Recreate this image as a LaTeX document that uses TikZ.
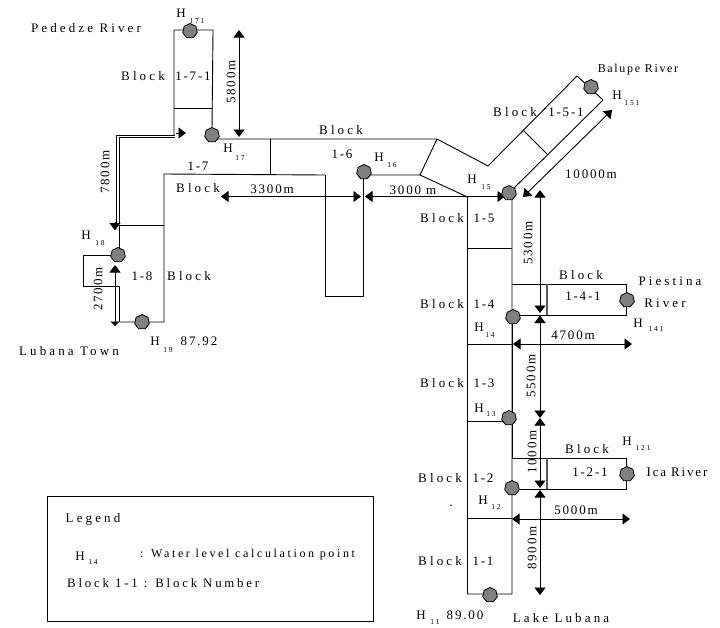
\documentclass[tikz,border=0pt]{standalone}
\usepackage{fontspec}
\setmainfont[LetterSpace=24]{Liberation Serif}
\newfontfamily\numfont[LetterSpace=14]{Liberation Serif}
\newfontfamily\legfont[LetterSpace=22]{Liberation Serif}
\usetikzlibrary{arrows.meta,shapes.geometric}
\pgfdeclarelayer{lines}
\pgfsetlayers{lines,main}
\tikzset{
 ln/.style={draw=black,line width=0.9pt,line join=miter},
 thk/.style={draw=black!65,line width=1.2pt},
 dim/.style={draw=black,line width=0.9pt,{Triangle[length=7.5pt,width=11pt]}-{Triangle[length=7.5pt,width=11pt]}},
 dimb/.style={draw=black,line width=0.9pt,-{Triangle[length=7.5pt,width=11pt]}},
 pt/.style={regular polygon,regular polygon sides=7,draw=black,line width=0.8pt,fill=black!50,minimum size=15pt,inner sep=0pt},
 tx/.style={inner sep=0pt,font=\fontsize{13}{15}\selectfont},
 nm/.style={inner sep=0pt,font=\numfont\fontsize{13}{15}\selectfont},
 sb/.style={inner sep=0pt,font=\fontsize{7.5}{8}\selectfont},
 rt/.style={nm,rotate=90},
}
\begin{document}
\begin{tikzpicture}[x=1pt,y=-1pt]
\useasboundingbox (0,0) rectangle (720,627);
% water level points
\node[pt] (h171) at (190,31) {};
\node[pt] (h17) at (212,135) {};
\node[pt] (h18) at (118,255) {};
\node[pt] (h19) at (142,322) {};
\node[pt] (h16) at (364,172) {};
\node[pt] (h15) at (509,193) {};
\node[pt] (h151) at (591,87) {};
\node[pt] (h141) at (627,300) {};
\node[pt] (h14) at (513,317) {};
\node[pt] (h13) at (509,418) {};
\node[pt] (h121) at (627,474) {};
\node[pt] (h12) at (512,488) {};
\node[pt] (h11) at (490,595) {};
% corner coordinates
\coordinate (a1) at (174,108); \coordinate (a2) at (213,108);
\coordinate (a3) at (174,30); \coordinate (a4) at (213,30);
\coordinate (a5) at (174,135); \coordinate (a6) at (213,130);
\coordinate (b0) at (214,139);
\coordinate (b1) at (270,139); \coordinate (b2) at (270,174);
\coordinate (b3) at (164,174); \coordinate (b4) at (164,322);
\coordinate (b5) at (119.5,225); \coordinate (b6) at (164,225);
\coordinate (c1) at (83,255); \coordinate (c2) at (83,286);
\coordinate (c3) at (119.5,286); \coordinate (c4) at (119.5,322);
\coordinate (d1) at (437,139); \coordinate (d2) at (488,166);
\coordinate (d3) at (577,76); \coordinate (d4) at (603,100);
\coordinate (d5) at (523,130); \coordinate (d6) at (548,155);
\coordinate (d7) at (420,175); \coordinate (d8) at (467.5,197);
\coordinate (e1) at (325,175); \coordinate (e2) at (325,296);
\coordinate (e3) at (363.5,296);
\coordinate (f1) at (467.5,594); \coordinate (f2) at (512,594);
\coordinate (f3) at (467.5,248); \coordinate (f4) at (512,248);
\coordinate (f5) at (512,284); \coordinate (f6) at (626,284);
\coordinate (f7) at (626,315); \coordinate (f8) at (512,315);
\coordinate (f9) at (547,284); \coordinate (f10) at (547,315);
\coordinate (g1) at (467.5,344); \coordinate (g2) at (512,344);
\coordinate (g3) at (467.5,421); \coordinate (g4) at (512,458);
\coordinate (g5) at (626,458); \coordinate (g6) at (626,489);
\coordinate (g7) at (512,489); \coordinate (g8) at (547,458);
\coordinate (g9) at (547,489); \coordinate (g10) at (467.5,518);
\coordinate (g11) at (512,518);
\begin{pgfonlayer}{lines}
% block outlines
\draw[ln] (a5) -- (a3) -- (a4) -- (a6 -| h17);
\draw[ln] (a1) -- (a2);
\draw[ln] (h17 |- b0) -- (d1) -- (d2) -- (d3) -- (d4) -- (h15);
\draw[ln] (d5) -- (d6);
\draw[ln] (b1) -- (b2);
\draw[ln] (e1) -- (b3) -- (b4) -- (c4);
\draw[ln] (b5) -- (b6);
\draw[ln] (b5) -- (b5 |- h18);
\draw[ln] (h18) -- (c1) -- (c2) -- (c3) -- (c4);
\draw[ln] (d1) -- (d7) -- (h16 |- d7);
\draw[ln] (d7) -- (d8) -- (f1) -- (f2) -- (f2 |- h15);
\draw[ln] (e1) -- (e2) -- (e3) -- (e3 |- h16);
\draw[ln] (f3) -- (f4);
\draw[ln] (f5) -- (f6) -- (f7) -- (f8);
\draw[thk] (f9) -- (f10);
\draw[ln] (g1) -- (g2);
\draw[ln] (g3) -- (g3 -| h13);
\draw[ln] (f8) -- (g4) -- (g5) -- (g6) -- (g7);
\draw[thk] (g8) -- (g9);
\draw[ln] (g10) -- (g11);
% double line with arrows
\coordinate (p1) at (175,135); \coordinate (p2) at (116,135);
\coordinate (p3) at (116,228);
\coordinate (q1) at (175,137.5); \coordinate (q2) at (119.5,137.5);
\coordinate (q3) at (119.5,224);
\coordinate (r2) at (186,133);
\draw[ln] (p1) -- (p2) -- (p3);
\draw[ln] (q1) -- (q2) -- (q3);
\coordinate (p4) at (115,222); \coordinate (p5) at (115,230.5);
\draw[dimb] (p4) -- (p5);
\coordinate (r3) at (176,133); \draw[dimb] (r3) -- (r2);
% dimension arrows
\coordinate (k1) at (239,30); \coordinate (k2) at (239,137);
\draw[dim] (k1) -- (k2);
\coordinate (k3) at (115,265); \coordinate (k4) at (115,326);
\draw[dim,{Triangle[length=7.5pt,width=11pt]}-{Triangle[length=4.5pt,width=9pt]}] (k3) -- (k4);
\coordinate (m1) at (221,196.5); \coordinate (m2) at (361,196.5);
\draw[dim] (m1) -- (m2);
\coordinate (m3) at (365,196.5); \coordinate (m4) at (505,196.5);
\draw[dim] (m3) -- (m4);
\coordinate (n1) at (523,197); \coordinate (n2) at (612,110);
\draw[dim] (n1) -- (n2);
\coordinate (o1) at (540,190); \coordinate (o2) at (540,313);
\coordinate (o3) at (540,315.5); \coordinate (o4) at (540,418);
\coordinate (o5) at (540,418); \coordinate (o6) at (540,488);
\coordinate (o7) at (540,490); \coordinate (o8) at (540,595);
\draw[dim] (o1) -- (o2);
\draw[dim] (o3) -- (o4);
\draw[dim] (o5) -- (o6);
\draw[dim] (o7) -- (o8);
\coordinate (s1) at (513,344); \coordinate (s2) at (632,344);
\draw[dim] (s1) -- (s2);
\coordinate (s3) at (512,519); \coordinate (s4) at (630,519);
\draw[dim] (s3) -- (s4);
\end{pgfonlayer}
% labels
\node[tx] (t1) at (86,28) {Pededze River};
\node[tx] (t2) at (181,13) {H}; \node[sb] (t3) at (197,21) {171};
\node[tx] (t4a) at (143,76) {Block}; \node[nm] (t4) at (193,76) {1-7-1};
\node[rt] (t5) at (231,82) {5800m};
\node[tx] (t6) at (228,148) {H}; \node[sb] (t7) at (240,158) {17};
\node[nm] (t8) at (198,166) {1-7};
\node[tx] (t9) at (198,188) {Block};
\node[nm] (t10) at (272,189) {3300m};
\node[rt] (t11) at (105,172) {7800m};
\node[tx] (t12) at (86,235) {H}; \node[sb] (t13) at (100,243) {18};
\node[nm] (t14) at (142,276) {1-8};
\node[tx] (t15) at (189,276) {Block};
\node[rt] (t16) at (98,289) {2700m};
\node[tx] (t17) at (155,341) {H}; \node[sb] (t18) at (168,350) {19};
\node[nm] (t19) at (199,341) {87.92};
\node[tx] (t20) at (69,351) {Lubana Town};
\node[tx] (t21) at (341,130) {Block};
\node[nm] (t22) at (342,154) {1-6};
\node[tx] (t23) at (379,157) {H}; \node[sb] (t24) at (392,165) {16};
\node[nm] (t25) at (413,190) {3000 m};
\node[tx] (t26) at (472,179) {H}; \node[sb] (t27) at (486,187) {15};
\node[tx] (t28) at (442,218) {Block}; \node[nm] (t29) at (484,218) {1-5};
\node[rt] (t30) at (528,243) {5300m};
\node[nm] (t31) at (638,70) {\fontsize{12}{14}\selectfont Balupe River};
\node[tx] (t32) at (617,95) {H}; \node[sb] (t33) at (632,103) {151};
\node[tx] (t34) at (515,112) {Block}; \node[nm] (t35) at (566,112) {1-5-1};
\node[nm] (t36) at (591,174) {10000m};
\node[tx] (t37) at (581,275) {Block};
\node[nm] (t38) at (583,296) {1-4-1};
\node[tx] (t39) at (670,281) {Piestina};
\node[tx] (t40) at (665,303) {River};
\node[tx] (t41) at (638,323) {H}; \node[sb] (t42) at (656,329) {141};
\node[tx] (t43) at (442,304) {Block}; \node[nm] (t44) at (484,304) {1-4};
\node[tx] (t45) at (479,327) {H}; \node[sb] (t46) at (490,335) {14};
\node[nm] (t47) at (573,335) {4700m};
\node[rt] (t48) at (531,376) {5500m};
\node[tx] (t49) at (442,383) {Block}; \node[nm] (t50) at (484,383) {1-3};
\node[tx] (t51) at (479,408) {H}; \node[sb] (t52) at (491,414) {13};
\node[rt] (t53) at (532,452) {1000m};
\node[tx] (t54) at (587,449) {Block};
\node[tx] (t55) at (627,441) {H}; \node[sb] (t56) at (643,448) {121};
\node[nm] (t57) at (590,472) {1-2-1};
\node[nm] (t58) at (677,472) {Ica River};
\node[tx] (t59) at (440,478) {Block}; \node[nm] (t60) at (483,478) {1-2};
\node[tx] (t61) at (451,506) {.};
\node[tx] (t62) at (483,500) {H}; \node[sb] (t63) at (496,507) {12};
\node[nm] (t64) at (576,510) {5000m};
\node[rt] (t65) at (532,548) {8900m};
\node[tx] (t66) at (440,561) {Block}; \node[nm] (t67) at (483,561) {1-1};
\node[tx] (t68) at (421,615) {H}; \node[sb] (t69) at (435,622) {11};
\node[nm] (t70) at (465,615) {89.00};
\node[tx] (t71) at (561,618) {Lake Lubana};
% legend
\node[draw=black,line width=0.9pt,minimum width=326pt,minimum height=125pt,inner sep=0pt] (leg) at (210.5,558.5) {};
\node[tx] (t72) at (93,519) {Legend};
\node[tx] (t73) at (80,556) {H}; \node[sb] (t74) at (93,562) {14};
\node[tx,anchor=west,font=\legfont\fontsize{12}{14}\selectfont] (t75) at (140,555) {:  Water level calculation point};
\node[tx,anchor=west,font=\legfont\fontsize{12.8}{14}\selectfont] (t76) at (67,583) {Block 1-1 :  Block Number};
\end{tikzpicture}
\end{document}
